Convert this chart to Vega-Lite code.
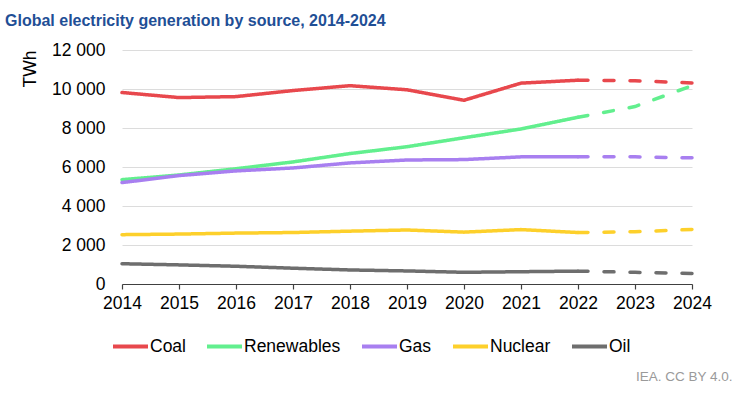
{
  "$schema": "https://vega.github.io/schema/vega-lite/v6.json",
  "autosize": "none",
  "width": 570,
  "height": 234,
  "padding": {"left": 122, "top": 50, "right": 47, "bottom": 109},
  "background": "white",
  "config": {
    "font": "Liberation Sans",
    "view": {"stroke": null}
  },
  "title": {
    "text": "Global electricity generation by source, 2014-2024",
    "fontSize": 16,
    "fontWeight": "bold",
    "color": "#1f4f96",
    "anchor": "start",
    "frame": "group",
    "dx": -117,
    "offset": 12
  },
  "data": {
    "values": [
      {"year": 2014, "source": "Coal", "value": 9820, "type": "actual"},
      {"year": 2015, "source": "Coal", "value": 9560, "type": "actual"},
      {"year": 2016, "source": "Coal", "value": 9610, "type": "actual"},
      {"year": 2017, "source": "Coal", "value": 9920, "type": "actual"},
      {"year": 2018, "source": "Coal", "value": 10170, "type": "actual"},
      {"year": 2019, "source": "Coal", "value": 9960, "type": "actual"},
      {"year": 2020, "source": "Coal", "value": 9420, "type": "actual"},
      {"year": 2021, "source": "Coal", "value": 10300, "type": "actual"},
      {"year": 2022, "source": "Coal", "value": 10450, "type": "actual"},
      {"year": 2022, "source": "Coal", "value": 10450, "type": "forecast"},
      {"year": 2023, "source": "Coal", "value": 10420, "type": "forecast"},
      {"year": 2024, "source": "Coal", "value": 10310, "type": "forecast"},
      {"year": 2014, "source": "Renewables", "value": 5350, "type": "actual"},
      {"year": 2015, "source": "Renewables", "value": 5590, "type": "actual"},
      {"year": 2016, "source": "Renewables", "value": 5910, "type": "actual"},
      {"year": 2017, "source": "Renewables", "value": 6260, "type": "actual"},
      {"year": 2018, "source": "Renewables", "value": 6690, "type": "actual"},
      {"year": 2019, "source": "Renewables", "value": 7040, "type": "actual"},
      {"year": 2020, "source": "Renewables", "value": 7500, "type": "actual"},
      {"year": 2021, "source": "Renewables", "value": 7950, "type": "actual"},
      {"year": 2022, "source": "Renewables", "value": 8550, "type": "actual"},
      {"year": 2022, "source": "Renewables", "value": 8550, "type": "forecast"},
      {"year": 2023, "source": "Renewables", "value": 9100, "type": "forecast"},
      {"year": 2024, "source": "Renewables", "value": 10170, "type": "forecast"},
      {"year": 2014, "source": "Gas", "value": 5200, "type": "actual"},
      {"year": 2015, "source": "Gas", "value": 5560, "type": "actual"},
      {"year": 2016, "source": "Gas", "value": 5800, "type": "actual"},
      {"year": 2017, "source": "Gas", "value": 5950, "type": "actual"},
      {"year": 2018, "source": "Gas", "value": 6210, "type": "actual"},
      {"year": 2019, "source": "Gas", "value": 6360, "type": "actual"},
      {"year": 2020, "source": "Gas", "value": 6380, "type": "actual"},
      {"year": 2021, "source": "Gas", "value": 6520, "type": "actual"},
      {"year": 2022, "source": "Gas", "value": 6520, "type": "actual"},
      {"year": 2022, "source": "Gas", "value": 6520, "type": "forecast"},
      {"year": 2023, "source": "Gas", "value": 6520, "type": "forecast"},
      {"year": 2024, "source": "Gas", "value": 6470, "type": "forecast"},
      {"year": 2014, "source": "Nuclear", "value": 2530, "type": "actual"},
      {"year": 2015, "source": "Nuclear", "value": 2560, "type": "actual"},
      {"year": 2016, "source": "Nuclear", "value": 2610, "type": "actual"},
      {"year": 2017, "source": "Nuclear", "value": 2640, "type": "actual"},
      {"year": 2018, "source": "Nuclear", "value": 2710, "type": "actual"},
      {"year": 2019, "source": "Nuclear", "value": 2770, "type": "actual"},
      {"year": 2020, "source": "Nuclear", "value": 2660, "type": "actual"},
      {"year": 2021, "source": "Nuclear", "value": 2790, "type": "actual"},
      {"year": 2022, "source": "Nuclear", "value": 2640, "type": "actual"},
      {"year": 2022, "source": "Nuclear", "value": 2640, "type": "forecast"},
      {"year": 2023, "source": "Nuclear", "value": 2680, "type": "forecast"},
      {"year": 2024, "source": "Nuclear", "value": 2800, "type": "forecast"},
      {"year": 2014, "source": "Oil", "value": 1040, "type": "actual"},
      {"year": 2015, "source": "Oil", "value": 980, "type": "actual"},
      {"year": 2016, "source": "Oil", "value": 910, "type": "actual"},
      {"year": 2017, "source": "Oil", "value": 810, "type": "actual"},
      {"year": 2018, "source": "Oil", "value": 720, "type": "actual"},
      {"year": 2019, "source": "Oil", "value": 670, "type": "actual"},
      {"year": 2020, "source": "Oil", "value": 600, "type": "actual"},
      {"year": 2021, "source": "Oil", "value": 630, "type": "actual"},
      {"year": 2022, "source": "Oil", "value": 660, "type": "actual"},
      {"year": 2022, "source": "Oil", "value": 660, "type": "forecast"},
      {"year": 2023, "source": "Oil", "value": 600, "type": "forecast"},
      {"year": 2024, "source": "Oil", "value": 540, "type": "forecast"}
    ]
  },
  "mark": {"type": "line", "strokeWidth": 3.5, "strokeCap": "round"},
  "encoding": {
    "x": {
      "field": "year",
      "type": "quantitative",
      "scale": {"domain": [2014, 2024], "nice": false, "zero": false},
      "axis": {
        "values": [2014, 2015, 2016, 2017, 2018, 2019, 2020, 2021, 2022, 2023, 2024],
        "format": "d",
        "grid": false,
        "domainColor": "#404040",
        "domainWidth": 1.2,
        "tickColor": "#404040",
        "tickWidth": 1.2,
        "tickSize": 5,
        "labelFontSize": 17.5,
        "labelColor": "#000000",
        "labelPadding": 5,
        "labelFlush": false,
        "labelOverlap": false,
        "title": "IEA. CC BY 4.0.",
        "titleFontSize": 13.5,
        "titleFontWeight": "normal",
        "titleColor": "#9a9a9a",
        "titleAnchor": null,
        "titleAlign": "right",
        "titleBaseline": "alphabetic",
        "titleX": 610,
        "titleY": 96
      }
    },
    "y": {
      "field": "value",
      "type": "quantitative",
      "scale": {"domain": [0, 12000], "nice": false},
      "axis": {
        "values": [0, 2000, 4000, 6000, 8000, 10000, 12000],
        "labelExpr": "replace(format(datum.value, ',d'), ',', ' ')",
        "domain": false,
        "ticks": false,
        "grid": true,
        "gridColor": "#dcdcdc",
        "gridWidth": 1,
        "labelFontSize": 17.5,
        "labelColor": "#000000",
        "labelPadding": 17,
        "title": "TWh",
        "titleFontSize": 17.5,
        "titleFontWeight": "normal",
        "titleColor": "#000000",
        "titleAngle": 270,
        "titleAlign": "right",
        "titleBaseline": "alphabetic",
        "titleX": -87,
        "titleY": 0
      }
    },
    "color": {
      "field": "source",
      "type": "nominal",
      "scale": {
        "domain": ["Coal", "Renewables", "Gas", "Nuclear", "Oil"],
        "range": ["#e8484d", "#62ef8e", "#a87ff0", "#fdd02b", "#6e6e6e"]
      },
      "legend": {
        "title": null,
        "orient": "none",
        "direction": "horizontal",
        "legendX": -11,
        "legendY": 277,
        "symbolType": "stroke",
        "symbolSize": 1225,
        "symbolStrokeWidth": 4,
        "labelFontSize": 17.5,
        "labelColor": "#000000",
        "labelOffset": 0,
        "columnPadding": 13
      }
    },
    "strokeDash": {
      "field": "type",
      "type": "nominal",
      "scale": {"domain": ["actual", "forecast"], "range": [[1, 0], [10, 16]]},
      "legend": null
    }
  }
}
